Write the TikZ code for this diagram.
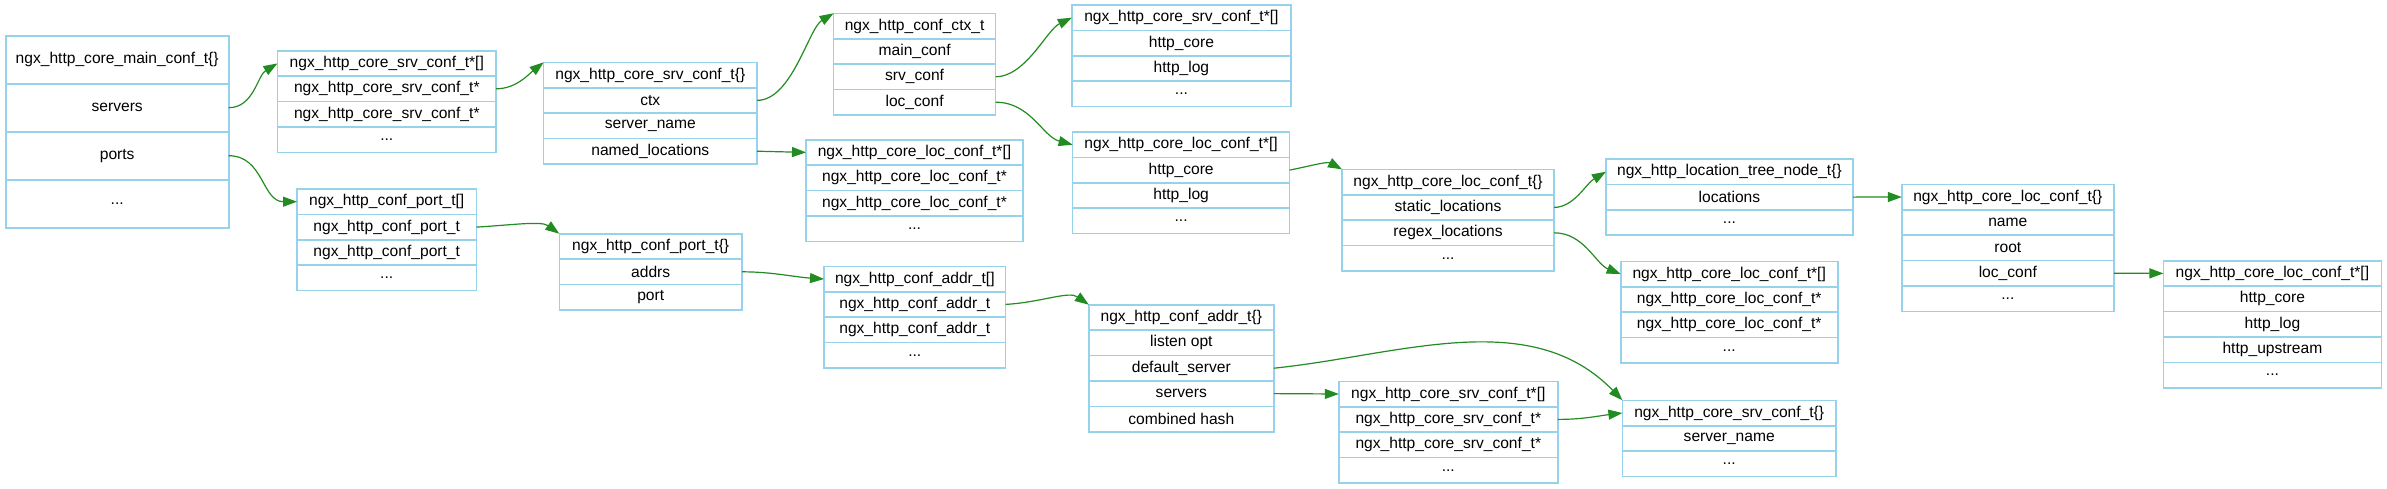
\documentclass[tikz,border=0pt]{standalone}
\usepackage{fontspec}
\setmainfont{Liberation Sans}
\usetikzlibrary{positioning,arrows.meta}
\definecolor{recblue}{RGB}{150,210,236}
\definecolor{linkgreen}{RGB}{34,139,34}
\tikzset{>={Triangle[length=7pt,width=5pt]}}
\tikzset{
  fld/.style={draw=recblue, line width=0.8pt, inner sep=0pt, outer sep=0pt, minimum height=12.7pt,
    font=\fontsize{7.8}{9}\selectfont},
  bigfld/.style={fld, minimum height=24pt},
  link/.style={draw=linkgreen, line width=0.6pt, ->},
}

\begin{document}
\begin{tikzpicture}[x=0.5pt,y=-0.5pt]
  \useasboundingbox (0,0) rectangle (2387,488);

  % core main conf
  \node[bigfld, anchor=north west, minimum width=111.5pt] (mc0) at (5.7,35.7) {ngx\_http\_core\_main\_conf\_t\{\}};
  \node[bigfld, minimum width=111.5pt, below=0pt of mc0] (mc1) {servers};
  \node[bigfld, minimum width=111.5pt, below=0pt of mc1] (mc2) {ports};
  \node[bigfld, minimum width=111.5pt, below=0pt of mc2] (mc3) {...};

  % servers array
  \node[fld, anchor=north west, minimum width=109.3pt] (srvarr0) at (277.5,50.7) {ngx\_http\_core\_srv\_conf\_t*[]};
  \node[fld, minimum width=109.3pt, below=0pt of srvarr0] (srvarr1) {ngx\_http\_core\_srv\_conf\_t*};
  \node[fld, minimum width=109.3pt, below=0pt of srvarr1] (srvarr2) {ngx\_http\_core\_srv\_conf\_t*};
  \node[fld, minimum width=109.3pt, below=0pt of srvarr2] (srvarr3) {...};

  % core srv conf
  \node[fld, anchor=north west, minimum width=106.7pt] (srv0) at (543.6,62.3) {ngx\_http\_core\_srv\_conf\_t\{\}};
  \node[fld, minimum width=106.7pt, below=0pt of srv0] (srv1) {ctx};
  \node[fld, minimum width=106.7pt, below=0pt of srv1] (srv2) {server\_name};
  \node[fld, minimum width=106.7pt, below=0pt of srv2] (srv3) {named\_locations};

  % conf ctx
  \node[fld, anchor=north west, minimum width=81pt] (ctx0) at (833.6,13.3) {ngx\_http\_conf\_ctx\_t};
  \node[fld, minimum width=81pt, below=0pt of ctx0] (ctx1) {main\_conf};
  \node[fld, minimum width=81pt, below=0pt of ctx1] (ctx2) {srv\_conf};
  \node[fld, minimum width=81pt, below=0pt of ctx2] (ctx3) {loc\_conf};

  % named locations
  \node[fld, anchor=north west, minimum width=108.5pt] (named0) at (806,139.7) {ngx\_http\_core\_loc\_conf\_t*[]};
  \node[fld, minimum width=108.5pt, below=0pt of named0] (named1) {ngx\_http\_core\_loc\_conf\_t*};
  \node[fld, minimum width=108.5pt, below=0pt of named1] (named2) {ngx\_http\_core\_loc\_conf\_t*};
  \node[fld, minimum width=108.5pt, below=0pt of named2] (named3) {...};

  % srv_conf modules
  \node[fld, anchor=north west, minimum width=109.5pt] (srvmod0) at (1071.9,5) {ngx\_http\_core\_srv\_conf\_t*[]};
  \node[fld, minimum width=109.5pt, below=0pt of srvmod0] (srvmod1) {http\_core};
  \node[fld, minimum width=109.5pt, below=0pt of srvmod1] (srvmod2) {http\_log};
  \node[fld, minimum width=109.5pt, below=0pt of srvmod2] (srvmod3) {...};

  % loc_conf modules
  \node[fld, anchor=north west, minimum width=108.5pt] (locmod0) at (1072.6,132) {ngx\_http\_core\_loc\_conf\_t*[]};
  \node[fld, minimum width=108.5pt, below=0pt of locmod0] (locmod1) {http\_core};
  \node[fld, minimum width=108.5pt, below=0pt of locmod1] (locmod2) {http\_log};
  \node[fld, minimum width=108.5pt, below=0pt of locmod2] (locmod3) {...};

  % core loc conf
  \node[fld, anchor=north west, minimum width=106pt] (loc0) at (1342,169.3) {ngx\_http\_core\_loc\_conf\_t\{\}};
  \node[fld, minimum width=106pt, below=0pt of loc0] (loc1) {static\_locations};
  \node[fld, minimum width=106pt, below=0pt of loc1] (loc2) {regex\_locations};
  \node[fld, minimum width=106pt, below=0pt of loc2] (loc3) {...};

  % location tree
  \node[fld, anchor=north west, minimum width=123.5pt] (tree0) at (1605.9,159) {ngx\_http\_location\_tree\_node\_t\{\}};
  \node[fld, minimum width=123.5pt, below=0pt of tree0] (tree1) {locations};
  \node[fld, minimum width=123.5pt, below=0pt of tree1] (tree2) {...};

  % regex locations
  \node[fld, anchor=north west, minimum width=108.5pt] (regex0) at (1620.7,261.3) {ngx\_http\_core\_loc\_conf\_t*[]};
  \node[fld, minimum width=108.5pt, below=0pt of regex0] (regex1) {ngx\_http\_core\_loc\_conf\_t*};
  \node[fld, minimum width=108.5pt, below=0pt of regex1] (regex2) {ngx\_http\_core\_loc\_conf\_t*};
  \node[fld, minimum width=108.5pt, below=0pt of regex2] (regex3) {...};

  % tree loc conf
  \node[fld, anchor=north west, minimum width=106pt] (tloc0) at (1901.8,184.3) {ngx\_http\_core\_loc\_conf\_t\{\}};
  \node[fld, minimum width=106pt, below=0pt of tloc0] (tloc1) {name};
  \node[fld, minimum width=106pt, below=0pt of tloc1] (tloc2) {root};
  \node[fld, minimum width=106pt, below=0pt of tloc2] (tloc3) {loc\_conf};
  \node[fld, minimum width=106pt, below=0pt of tloc3] (tloc4) {...};

  % tree loc_conf modules
  \node[fld, anchor=north west, minimum width=109pt] (tmod0) at (2163.4,260.7) {ngx\_http\_core\_loc\_conf\_t*[]};
  \node[fld, minimum width=109pt, below=0pt of tmod0] (tmod1) {http\_core};
  \node[fld, minimum width=109pt, below=0pt of tmod1] (tmod2) {http\_log};
  \node[fld, minimum width=109pt, below=0pt of tmod2] (tmod3) {http\_upstream};
  \node[fld, minimum width=109pt, below=0pt of tmod3] (tmod4) {...};

  % ports array
  \node[fld, anchor=north west, minimum width=89.7pt] (portarr0) at (297,189) {ngx\_http\_conf\_port\_t[]};
  \node[fld, minimum width=89.7pt, below=0pt of portarr0] (portarr1) {ngx\_http\_conf\_port\_t};
  \node[fld, minimum width=89.7pt, below=0pt of portarr1] (portarr2) {ngx\_http\_conf\_port\_t};
  \node[fld, minimum width=89.7pt, below=0pt of portarr2] (portarr3) {...};

  % conf port
  \node[fld, anchor=north west, minimum width=91.4pt] (port0) at (559.3,233.7) {ngx\_http\_conf\_port\_t\{\}};
  \node[fld, minimum width=91.4pt, below=0pt of port0] (port1) {addrs};
  \node[fld, minimum width=91.4pt, below=0pt of port1] (port2) {port};

  % addrs array
  \node[fld, anchor=north west, minimum width=90.8pt] (addrarr0) at (824,266.3) {ngx\_http\_conf\_addr\_t[]};
  \node[fld, minimum width=90.8pt, below=0pt of addrarr0] (addrarr1) {ngx\_http\_conf\_addr\_t};
  \node[fld, minimum width=90.8pt, below=0pt of addrarr1] (addrarr2) {ngx\_http\_conf\_addr\_t};
  \node[fld, minimum width=90.8pt, below=0pt of addrarr2] (addrarr3) {...};

  % conf addr
  \node[fld, anchor=north west, minimum width=92.5pt] (addr0) at (1088.8,304.7) {ngx\_http\_conf\_addr\_t\{\}};
  \node[fld, minimum width=92.5pt, below=0pt of addr0] (addr1) {listen opt};
  \node[fld, minimum width=92.5pt, below=0pt of addr1] (addr2) {default\_server};
  \node[fld, minimum width=92.5pt, below=0pt of addr2] (addr3) {servers};
  \node[fld, minimum width=92.5pt, below=0pt of addr3] (addr4) {combined hash};

  % addr servers array
  \node[fld, anchor=north west, minimum width=109.5pt] (asrvarr0) at (1338.8,381.3) {ngx\_http\_core\_srv\_conf\_t*[]};
  \node[fld, minimum width=109.5pt, below=0pt of asrvarr0] (asrvarr1) {ngx\_http\_core\_srv\_conf\_t*};
  \node[fld, minimum width=109.5pt, below=0pt of asrvarr1] (asrvarr2) {ngx\_http\_core\_srv\_conf\_t*};
  \node[fld, minimum width=109.5pt, below=0pt of asrvarr2] (asrvarr3) {...};

  % addr core srv conf
  \node[fld, anchor=north west, minimum width=106.8pt] (asrv0) at (1622.4,400.3) {ngx\_http\_core\_srv\_conf\_t\{\}};
  \node[fld, minimum width=106.8pt, below=0pt of asrv0] (asrv1) {server\_name};
  \node[fld, minimum width=106.8pt, below=0pt of asrv1] (asrv2) {...};

  % links
  \draw[link] (mc1.east) .. controls +(25,0) and +(-20,12) .. (srvarr0.west);
  \draw[link] (mc2.east) .. controls +(35,0) and +(-35,0) .. (portarr0.west);
  \draw[link] (srvarr1.east) .. controls +(20,0) and +(-15,12) .. (srv0.north west);
  \draw[link] (srv1.east) .. controls +(35,0) and +(-25,15) .. (ctx0.north west);
  \draw[link] (srv3.east) -- (named0.west);
  \draw[link] (ctx2.east) .. controls +(30,0) and +(-25,12) .. (srvmod0.west);
  \draw[link] (ctx3.east) .. controls +(35,0) and +(-30,-8) .. (locmod0.west);
  \draw[link] (locmod1.east) .. controls +(20,-4) and +(-15,-8) .. (loc0.north west);
  \draw[link] (loc1.east) .. controls +(20,0) and +(-20,12) .. (tree0.west);
  \draw[link] (loc2.east) .. controls +(30,0) and +(-25,-10) .. (regex0.west);
  \draw[link] (tree1.east) -- (tloc0.west);
  \draw[link] (tloc3.east) -- (tmod0.west);
  \draw[link] (portarr1.east) .. controls +(35,-2) and +(-18,-13) .. (port0.north west);
  \draw[link] (port1.east) .. controls +(30,0) and +(-30,-2) .. (addrarr0.west);
  \draw[link] (addrarr1.east) .. controls +(35,-2) and +(-20,-14) .. (addr0.north west);
  \draw[link] (addr2.east) .. controls +(126,-13) and +(-92,-95) .. (asrv0.north west);
  \draw[link] (addr3.east) -- (asrvarr0.west);
  \draw[link] (asrvarr1.east) .. controls +(25,0) and +(-25,3) .. (asrv0.west);
\end{tikzpicture}
\end{document}
